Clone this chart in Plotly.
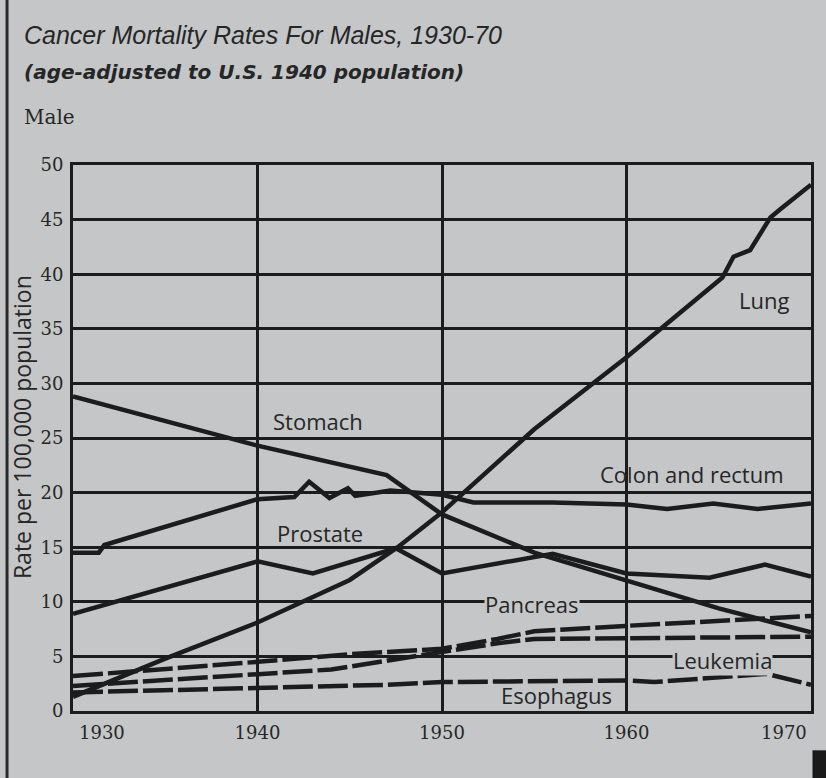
import plotly.graph_objects as go

# ---- data ----
lung_years = [1930, 1935, 1940, 1945, 1947.6, 1950, 1955, 1960, 1965.2, 1965.8, 1966.7, 1967.8, 1968.3, 1970]
lung_rate = [1.3, 4.8, 8.1, 12.0, 15.0, 18.2, 25.8, 32.4, 39.7, 41.6, 42.2, 45.2, 45.9, 48.2]

stomach_years = [1930, 1940, 1947, 1948.3, 1950, 1955, 1960, 1965, 1970]
stomach_rate = [28.8, 24.3, 21.6, 20.0, 18.0, 14.5, 12.0, 9.4, 7.2]

colon_years = [1930, 1931.4, 1931.7, 1940, 1942, 1942.8, 1943.9, 1944.9, 1945.3, 1947.2, 1950, 1951.7, 1956, 1960, 1962.2, 1964.7, 1967.1, 1970]
colon_rate = [14.5, 14.5, 15.2, 19.4, 19.6, 21.0, 19.5, 20.4, 19.7, 20.2, 19.8, 19.1, 19.1, 18.9, 18.5, 19.0, 18.5, 19.0]

prostate_years = [1930, 1940, 1943, 1947.5, 1950, 1956, 1960, 1964.5, 1967.5, 1970]
prostate_rate = [8.9, 13.7, 12.6, 14.9, 12.6, 14.4, 12.6, 12.2, 13.4, 12.3]

pancreas_years = [1930, 1935, 1940, 1945, 1950, 1953, 1955, 1960, 1965, 1970]
pancreas_rate = [3.2, 3.8, 4.5, 5.2, 5.7, 6.6, 7.3, 7.8, 8.2, 8.7]

leukemia_years = [1930, 1935, 1940, 1944, 1947, 1950, 1953, 1955, 1960, 1965, 1970]
leukemia_rate = [2.3, 2.8, 3.4, 3.8, 4.6, 5.4, 6.2, 6.6, 6.7, 6.75, 6.8]

esophagus_years = [1930, 1935, 1940, 1947, 1950, 1960, 1961.5, 1967.6, 1970]
esophagus_rate = [1.7, 1.9, 2.2, 2.4, 2.65, 2.8, 2.65, 3.4, 2.4]

x_ticks = [1930, 1940, 1950, 1960, 1970]
y_ticks = [0, 5, 10, 15, 20, 25, 30, 35, 40, 45, 50]

label_names = ["Stomach", "Prostate", "Lung", "Colon and rectum", "Pancreas", "Leukemia", "Esophagus"]
label_x = [1943.3, 1943.4, 1967.45, 1963.55, 1954.9, 1965.2, 1956.2]
label_y = [26.6, 16.3, 37.6, 21.7, 9.8, 4.7, 1.5]

BG = "#c4c6c8"
INK = "#1c1c1c"
TXT = "#262626"
SANS = "Open Sans, sans-serif"
SERIF = "DejaVu Serif, serif"

fig = go.Figure()

solid = dict(color=INK, width=4.5)
dashed = dict(color=INK, width=4.5, dash="30px,5px")

series = [
    ("Esophagus", esophagus_years, esophagus_rate, dashed),
    ("Leukemia", leukemia_years, leukemia_rate, dashed),
    ("Pancreas", pancreas_years, pancreas_rate, dashed),
    ("Prostate", prostate_years, prostate_rate, solid),
    ("Colon and rectum", colon_years, colon_rate, solid),
    ("Stomach", stomach_years, stomach_rate, solid),
    ("Lung", lung_years, lung_rate, solid),
]
for name, xs, ys, ln in series:
    fig.add_trace(go.Scatter(x=xs, y=ys, mode="lines", name=name, line=ln,
                             showlegend=False, hoverinfo="x+y+name"))

annotations = []
for name, lx, ly in zip(label_names, label_x, label_y):
    boxed = name in ("Pancreas", "Leukemia")
    annotations.append(dict(
        x=lx, y=ly, xref="x", yref="y", text=name, showarrow=False,
        font=dict(family=SANS, size=22, color=TXT),
        bgcolor=BG if boxed else None, borderpad=0,
    ))

# outer x tick labels sit inside the frame ends
annotations.append(dict(x=x_ticks[0], y=0, xref="x", yref="paper", text=str(x_ticks[0]),
                        showarrow=False, xanchor="left", yanchor="top", xshift=4, yshift=-9,
                        font=dict(family=SERIF, size=18, color=TXT)))
annotations.append(dict(x=x_ticks[-1], y=0, xref="x", yref="paper", text=str(x_ticks[-1]),
                        showarrow=False, xanchor="right", yanchor="top", xshift=-2, yshift=-9,
                        font=dict(family=SERIF, size=18, color=TXT)))

# y-axis title
annotations.append(dict(x=0, y=0.52, xref="paper", yref="paper", xanchor="center", yanchor="middle",
                        xshift=22 - 73, textangle=-90, showarrow=False,
                        text="Rate per 100,000 population",
                        font=dict(family=SANS, size=23, color=TXT)))

fig.update_layout(
    width=826, height=778,
    margin=dict(l=73, r=15, t=165, b=67),
    paper_bgcolor=BG, plot_bgcolor=BG,
    annotations=annotations,
    shapes=[
        dict(type="line", xref="paper", yref="paper", x0=-0.0894, x1=-0.0894, y0=-0.125, y1=1.31,
             line=dict(color="#2a2a2a", width=3)),
        dict(type="rect", xref="paper", yref="paper", x0=1.002, x1=1.03, y0=-0.125, y1=-0.072,
             fillcolor="#1a1a1a", line=dict(width=0)),
    ],
)

fig.add_annotation(x=0, y=1, xref="paper", yref="paper", xanchor="left", yanchor="top",
                   xshift=-73 + 22, yshift=165 - 19, showarrow=False,
                   text="<i>Cancer Mortality Rates For Males, 1930-70</i>",
                   font=dict(family="Liberation Sans, sans-serif", size=25, color=TXT))
fig.add_annotation(x=0, y=1, xref="paper", yref="paper", xanchor="left", yanchor="top",
                   xshift=-73 + 22, yshift=165 - 58, showarrow=False,
                   text="<b><i>(age-adjusted to U.S. 1940 population)</i></b>",
                   font=dict(family="DejaVu Sans, sans-serif", size=20, color=TXT))
fig.add_annotation(x=0, y=1, xref="paper", yref="paper", xanchor="left", yanchor="top",
                   xshift=-73 + 22, yshift=165 - 103, showarrow=False,
                   text="Male",
                   font=dict(family=SERIF, size=20, color=TXT))

fig.update_xaxes(
    range=[1930, 1970], tickvals=x_ticks,
    ticktext=[""] + [str(v) for v in x_ticks[1:-1]] + [""],
    showgrid=True, gridcolor=INK, gridwidth=2.5,
    showline=True, linecolor=INK, linewidth=3, mirror=True,
    ticks="", ticklabelstandoff=3, zeroline=False,
    tickfont=dict(family=SERIF, size=18, color=TXT),
)
fig.update_yaxes(
    range=[0, 50], tickvals=y_ticks,
    showgrid=True, gridcolor=INK, gridwidth=2.5,
    showline=True, linecolor=INK, linewidth=3, mirror=True,
    ticks="", ticklabelstandoff=3, zeroline=False,
    tickfont=dict(family=SERIF, size=18, color=TXT),
)

fig.write_html("out.html", config={"displayModeBar": False},
               post_script="document.body.style.margin='0';document.body.style.background='%s';" % BG)
